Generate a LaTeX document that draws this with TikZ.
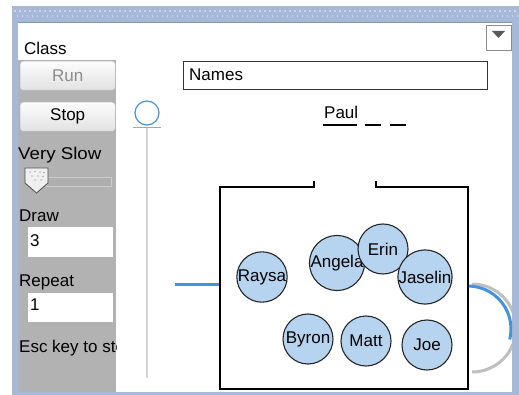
\documentclass[tikz,border=0pt]{standalone}
\usepackage{fontspec}
\setmainfont{Liberation Sans}
\usetikzlibrary{patterns}
\definecolor{frameblue}{RGB}{168,184,216}
\definecolor{framedot}{RGB}{200,212,236}
\definecolor{panelgray}{RGB}{178,178,178}
\definecolor{ballfill}{RGB}{182,212,240}
\definecolor{lineblue}{RGB}{66,146,222}
\definecolor{railgray}{RGB}{212,212,212}
\definecolor{btnborder}{RGB}{190,190,190}
\definecolor{btntop}{RGB}{252,252,252}
\definecolor{btnbot}{RGB}{226,226,226}
\definecolor{trackgray}{RGB}{160,160,160}
\tikzset{
  lbl/.style={anchor=base west, inner sep=0pt, text=black},
  ball/.style={circle, draw=black!85, line width=1.1pt, fill=ballfill, minimum size=50pt, inner sep=0pt, text=black},
  btn/.style={draw=btnborder, rounded corners=3pt, top color=btntop, bottom color=btnbot, minimum width=95pt, minimum height=29pt, inner sep=0pt, anchor=north west},
  field/.style={draw=black!80, line width=1pt, fill=white, anchor=north west, inner sep=0pt},
  wall/.style={line width=2pt, black},
}
\begin{document}
\begin{tikzpicture}[x=1pt,y=-1pt, font=\fontsize{17}{17}\selectfont]
\useasboundingbox (0,0) rectangle (519,395);
\fill[white] (0,0) rectangle (519,395);
% window frame
\fill[frameblue] (12,6) rectangle (519,395);
\fill[white] (18,23) rectangle (512,392);
\foreach \i in {0,...,100} {
  \fill[framedot] (14+5*\i,10) rectangle ++(1.6,1.6);
  \fill[framedot] (16.5+5*\i,15) rectangle ++(1.6,1.6);
}
\draw[frameblue!80!black, line width=0.6pt] (18,22.5) -- (512,22.5);
% left control panel
\fill[panelgray] (18,60) rectangle (116,392);
\node[lbl] (class) at (24,55) {Class};
\node[btn] (run) at (20,61) {};
\node[text=black!45] at (run.center) {Run};
\node[btn] (stop) at (20,102) {};
\node[text=black] at (stop.center) {Stop};
\node[lbl, xscale=1.1] (speed) at (18,160) {Very Slow};
\draw[fill=trackgray!85, draw=white!80!black] (46,177) rectangle (111,186);
\draw[fill=white!94!black, draw=black!70, line width=0.8pt] (25,168) -- (48,168) -- (48,183) -- (36.5,193) -- (25,183) -- cycle;
\foreach \p in {(30,172),(35,171.5),(40,172),(44,172.5),(32,176),(38,176),(43,176.5),(35,180),(41,180)}
  \fill[black!55] \p circle (0.7);
\node[lbl] (drawlbl) at (19,222) {Draw};
\node[field, draw=none, minimum width=85pt, minimum height=30pt] (drawbox) at (27,227) {};
\node[lbl] at (30,247) {3};
\node[lbl] (replbl) at (19,286) {Repeat};
\node[field, draw=none, minimum width=85pt, minimum height=29pt] (repbox) at (27,292) {};
\node[lbl] at (30,310) {1};
\begin{scope}
  \clip (18,330) rectangle (116,392);
  \node[lbl] (esc) at (19,352) {Esc key to stop};
\end{scope}
% vertical slider
\coordinate (railtop) at (147,128);
\coordinate (railbot) at (147,378);
\draw[railgray, line width=1.8pt] (railtop) -- (railbot);
\draw[black!35, line width=1pt] (133,128) -- (161,128);
\node[circle, draw=lineblue, line width=1.2pt, minimum size=24pt, inner sep=0pt, fill=white] (knob) at (147,113) {};
% names field
\node[field, minimum width=304pt, minimum height=28pt] (names) at (183,61) {};
\node[lbl] at (189,81) {Names};
% dropdown
\node[draw=black!45, line width=0.8pt, minimum size=25pt, inner sep=0pt, anchor=north west, fill=white] (menu) at (486,25) {};
\fill[black!65] (492,31) -- (505,31) -- (498.5,38) -- cycle;
% Paul
\node[lbl] (paul) at (324,119) {Paul};
\draw[black, line width=1.3pt] (323,125) -- (357,125);
\draw[black, line width=1.3pt] (365,125) -- (381,125);
\draw[black, line width=1.3pt] (390,125) -- (406,125);
% right arc
\begin{scope}
  \clip (469,270) rectangle (512,392);
  \draw[railgray!90!black, line width=3pt] (472,284) arc[start angle=-90, end angle=90, radius=44];
  \draw[lineblue, line width=3pt] (468,286) arc[start angle=-90, end angle=14, radius=43];
\end{scope}
% left blue line
\coordinate (blueL) at (175,284);
% container
\coordinate (c1) at (314,181);
\coordinate (c2) at (314,187);
\coordinate (c3) at (220,187);
\coordinate (c4) at (220,389);
\coordinate (c5) at (468,389);
\coordinate (c6) at (468,187);
\coordinate (c7) at (376,187);
\coordinate (c8) at (376,181);
\draw[lineblue, line width=3pt] (blueL) -- (220,284);
\draw[wall] (c1) -- (c2) -- (c3) -- (c4) -- (c5) -- (c6) -- (c7) -- (c8);
% balls
\node[ball] (raysa) at (262,277) {Raysa};
\node[ball] (angela) at (337,263) {Angela};
\node[ball] (erin) at (383,249) {Erin};
\node[ball] (jaselin) at (425,277) {Jaselin};
\node[ball] (byron) at (308,339) {Byron};
\node[ball] (matt) at (366,341) {Matt};
\node[ball] (joe) at (427,345) {Joe};
\end{tikzpicture}
\end{document}
